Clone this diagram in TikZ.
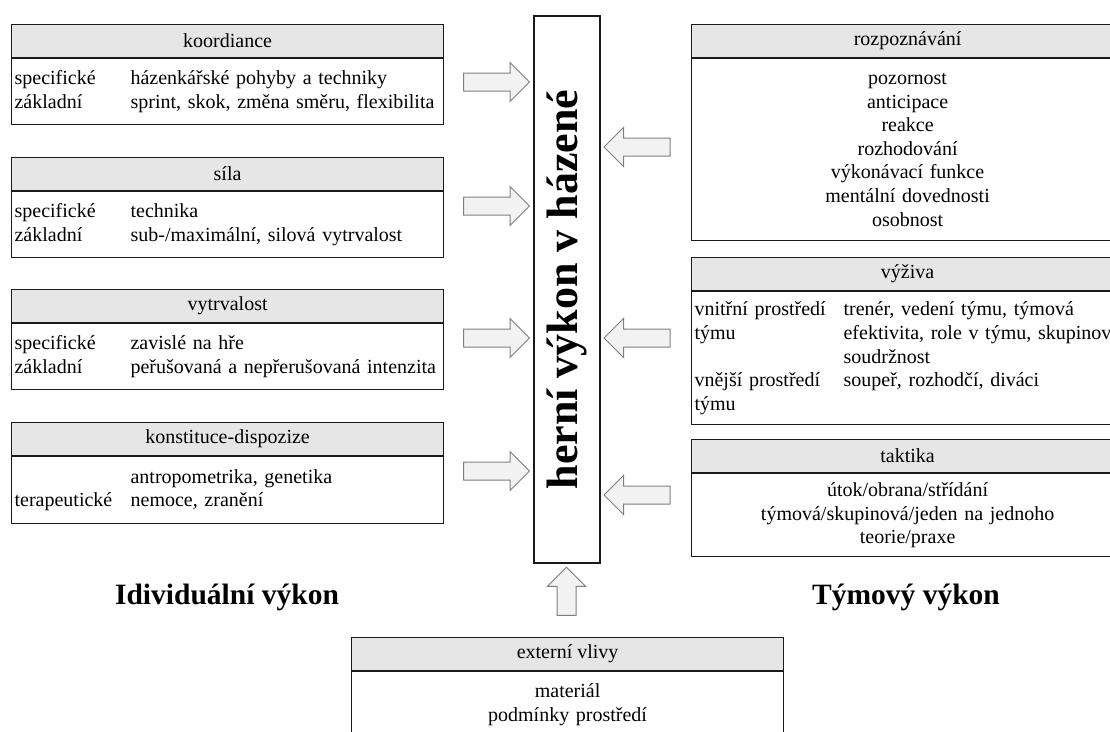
\documentclass[tikz,border=0pt]{standalone}
\usepackage{fontspec}
\setmainfont{Liberation Serif}
\usetikzlibrary{shapes.arrows}

\definecolor{headgray}{HTML}{E6E6E6}
\definecolor{boxline}{HTML}{1A1A1A}
\definecolor{arrowline}{HTML}{7F7F7F}
\definecolor{arrowfill}{HTML}{F2F2F2}

% label columns inside the boxes
\newcommand{\colL}[1]{\makebox[116pt][l]{#1}}
\newcommand{\colR}[1]{\makebox[149pt][l]{#1}}

\begin{document}
\begin{tikzpicture}[
    x=1pt, y=-1pt,
    txt/.style={font=\fontsize{20}{23.6}\selectfont},
    head/.style={rectangle, draw=boxline, line width=1.2pt, fill=headgray, minimum width=432pt, minimum height=33pt, inner sep=0pt, txt},
    body/.style={rectangle, draw=boxline, line width=1.2pt, fill=white, minimum width=432pt, text width=426pt, inner xsep=3pt, inner ysep=0pt, anchor=north, txt},
    fatarrow/.style={single arrow, draw=arrowline, fill=arrowfill, line width=1pt, inner sep=8.5pt, minimum height=66pt, minimum width=38pt, single arrow head extend=10.5pt, single arrow head indent=0pt},
    grouplabel/.style={font=\bfseries\fontsize{29.5}{34}\selectfont}
]
\useasboundingbox (0,0) rectangle (1110,731);
\clip (0,0) rectangle (1110,731);

% Central box
\node[draw=boxline, line width=1.2pt, fill=white, minimum width=547pt, minimum height=66pt, rotate=90, font=\bfseries\fontsize{44}{50}\selectfont] (perf) at (567,289.5) {herní výkon v házené};

% Individual performance (left)
\node[head, anchor=north west] (koord_head) at (11,24) {koordiance};
\node[body, align=left, minimum height=66pt] (koord) at (koord_head.south) {%
    \colL{specifické}házenkářské pohyby a techniky\\
    \colL{základní}sprint, skok, změna směru, flexibilita};

\node[head, anchor=north west] (sila_head) at (11,157) {síla};
\node[body, align=left, minimum height=66pt] (sila) at (sila_head.south) {%
    \colL{specifické}technika\\
    \colL{základní}sub-/maximální, silová vytrvalost};

\node[head, anchor=north west] (vytrv_head) at (11,289) {vytrvalost};
\node[body, align=left, minimum height=66pt] (vytrv) at (vytrv_head.south) {%
    \colL{specifické}zavislé na hře\\
    \colL{základní}peřušovaná a nepřerušovaná intenzita};

\node[head, anchor=north west] (konst_head) at (11,422) {konstituce-dispozize};
\node[body, align=left, minimum height=67pt] (konst) at (konst_head.south) {%
    \colL{}antropometrika, genetika\\
    \colL{terapeutické}nemoce, zranění};

% Arrows for individual performance
\node[fatarrow] (arr_koord) at (492,82) {};
\node[fatarrow] (arr_sila) at (492,206) {};
\node[fatarrow] (arr_vytrv) at (492,338) {};
\node[fatarrow] (arr_konst) at (492,471) {};

% Team performance (right)
\node[head, anchor=north west] (rozp_head) at (691,24) {rozpoznávání};
\node[body, align=center, minimum height=182pt] (rozp) at (rozp_head.south) {%
    pozornost\\ anticipace\\ reakce\\ rozhodování\\ výkonávací funkce\\ mentální dovednosti\\ osobnost};

\node[head, anchor=north west] (vyziva_head) at (691,257) {výživa};
\node[body, align=left, minimum height=133pt] (vyziva) at (vyziva_head.south) {%
    \colR{vnitřní prostředí}trenér, vedení týmu, týmová\\
    \colR{týmu}efektivita, role v týmu, skupinová\\
    \colR{}soudržnost\\
    \colR{vnější prostředí}soupeř, rozhodčí, diváci\\
    \colR{týmu}};

\node[head, anchor=north west] (takt_head) at (691,439) {taktika};
\node[body, align=center, minimum height=83pt] (takt) at (takt_head.south) {%
    útok/obrana/střídání\\ týmová/skupinová/jeden na jednoho\\ teorie/praxe};

% Arrows for team performance
\node[fatarrow, shape border rotate=180] (arr_rozp) at (641.5,147) {};
\node[fatarrow, shape border rotate=180] (arr_vyziva) at (641.5,338) {};
\node[fatarrow, shape border rotate=180] (arr_takt) at (641.5,495) {};

% External influences (bottom)
\node[head, anchor=north west] (ext_head) at (351,637) {externí vlivy};
\node[body, align=center, minimum height=66pt] (ext) at (ext_head.south) {%
    materiál\\ podmínky prostředí};
\node[fatarrow, shape border rotate=90, inner sep=9pt, minimum height=48pt, minimum width=37pt, single arrow head extend=9.5pt] (arr_ext) at (566.5,596) {};

% Group labels
\node[grouplabel] (indiv_label) at (227,597) {Idividuální výkon};
\node[grouplabel] (team_label) at (906,597) {Týmový výkon};

\end{tikzpicture}
\end{document}
